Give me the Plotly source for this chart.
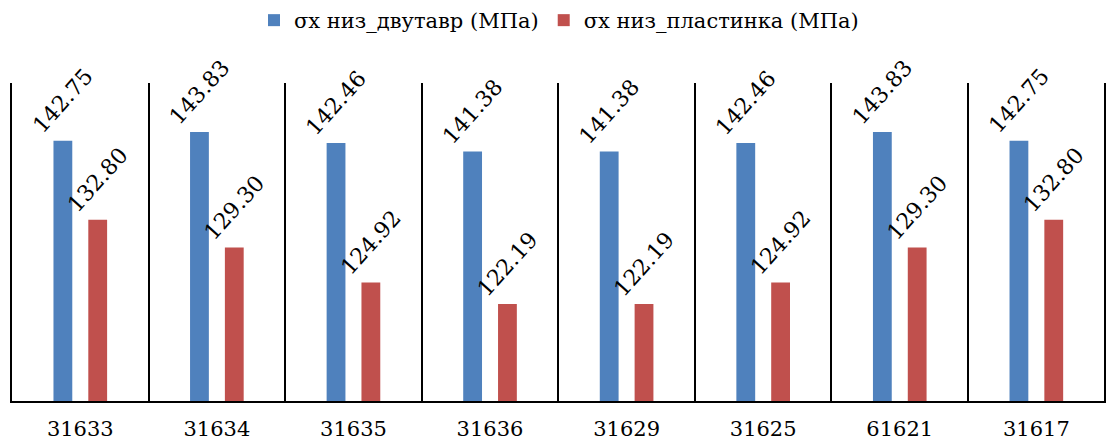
import plotly.graph_objects as go

# Sections (tick labels) and the two stress series, MPa
sections = ["31633", "31634", "31635", "31636", "31629", "31625", "61621", "31617"]
sigma_ibeam = [142.75, 143.83, 142.46, 141.38, 141.38, 142.46, 143.83, 142.75]
sigma_plate = [132.80, 129.30, 124.92, 122.19, 122.19, 124.92, 129.30, 132.80]

series_names = ["σх низ_двутавр (МПа)", "σх низ_пластинка (МПа)"]
colors = ["#4F81BD", "#C0504D"]

serif = "DejaVu Serif"

fig = go.Figure()
for name, vals, col in zip(series_names, [sigma_ibeam, sigma_plate], colors):
    fig.add_trace(go.Bar(
        x=sections,
        y=vals,
        name=name,
        marker=dict(color=col, line=dict(width=0)),
        text=[f"{v:.2f}" for v in vals],
        textposition="outside",
        textangle=-48,
        constraintext="none",
        cliponaxis=False,
        textfont=dict(family=serif, size=22, color="#000000"),
    ))

fig.update_layout(
    width=1106,
    height=445,
    margin=dict(l=12, r=0, t=83, b=44),
    paper_bgcolor="white",
    plot_bgcolor="white",
    barmode="group",
    bargap=0.49,
    bargroupgap=0.46,
    showlegend=True,
    legend=dict(
        orientation="h",
        x=0.5, xanchor="center",
        y=1.0, yanchor="top",
        yref="container",
        font=dict(family=serif, size=21, color="#000000"),
        itemwidth=30,
        traceorder="normal",
    ),
    xaxis=dict(
        type="category",
        range=[-0.5, 7.51],
        tickson="boundaries",
        showgrid=True,
        gridcolor="#000000",
        gridwidth=1.5,
        ticks="",
        ticklabelstandoff=8,
        showline=True,
        linecolor="#000000",
        linewidth=2,
        tickfont=dict(family=serif, size=21, color="#000000"),
        zeroline=False,
    ),
    yaxis=dict(
        range=[110, 150],
        showgrid=False,
        showticklabels=False,
        ticks="",
        zeroline=False,
        showline=True,
        linecolor="#000000",
        linewidth=2,
    ),
)

fig.write_html("out.html")
